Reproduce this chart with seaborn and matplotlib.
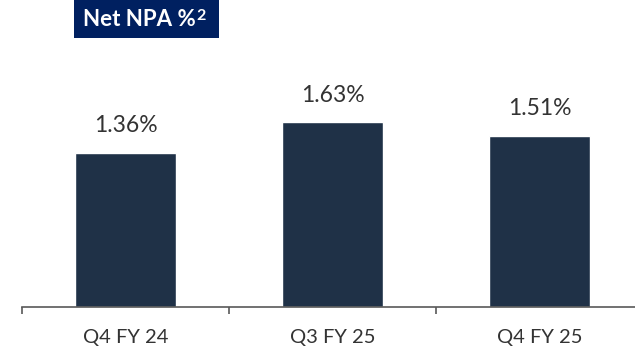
import pandas as pd
import matplotlib.pyplot as plt
import seaborn as sns
from matplotlib.patches import Rectangle

# Data
quarters = ['Q4 FY 24', 'Q3 FY 25', 'Q4 FY 25']
net_npa = [1.36, 1.63, 1.51]

df = pd.DataFrame({'quarter': quarters, 'net_npa': net_npa})

sns.set_style("white")
plt.rcParams['font.family'] = ['Lato', 'DejaVu Sans']

fig = plt.figure(figsize=(6.35, 3.52), dpi=100)
ax = fig.add_axes([22 / 635, 45 / 352, 621 / 635, 307 / 352])

sns.barplot(x='quarter', y='net_npa', data=df, color='#1F3147',
            width=0.49, saturation=1, ax=ax)

ax.set_xlim(-0.5, 2.5)
ax.set_ylim(0, 307 / 113.3)

# value labels above bars
for i, v in enumerate(net_npa):
    ax.annotate(f'{v:.2f}%', (i, v), xytext=(0, 12), textcoords='offset points',
                ha='center', va='bottom', fontsize=16.5, color='#333333')

# axis styling
for s in ['top', 'right', 'left']:
    ax.spines[s].set_visible(False)
ax.spines['bottom'].set_color('#595959')
ax.spines['bottom'].set_linewidth(1.2)
ax.set_yticks([])
ax.set_xlabel('')
ax.set_ylabel('')
ax.set_xticks([-0.5, 0.5, 1.5, 2.5], minor=True)
ax.tick_params(axis='x', which='minor', bottom=True, length=5, width=1.2,
               color='#595959', direction='out')
ax.tick_params(axis='x', which='major', length=0, pad=16, labelsize=14.5,
               labelcolor='#333333')

# title box
fig.patches.append(Rectangle((74 / 635, 1 - 38 / 352), 145 / 635, 38 / 352,
                             transform=fig.transFigure, facecolor='#002060',
                             edgecolor='none', zorder=0))
title = fig.text(83 / 635, 1 - 19 / 352, 'Net NPA %', ha='left', va='center',
                 color='white', fontsize=16, fontweight='bold', zorder=2)
fig.canvas.draw()
bb = title.get_window_extent().transformed(fig.transFigure.inverted())
fig.text(bb.x1 + 1 / 635, bb.y1 - 1 / 352, '2', ha='left', va='top',
         color='white', fontsize=11.5, fontweight='bold', zorder=2)

plt.savefig('out.png', dpi=100)
plt.close()
